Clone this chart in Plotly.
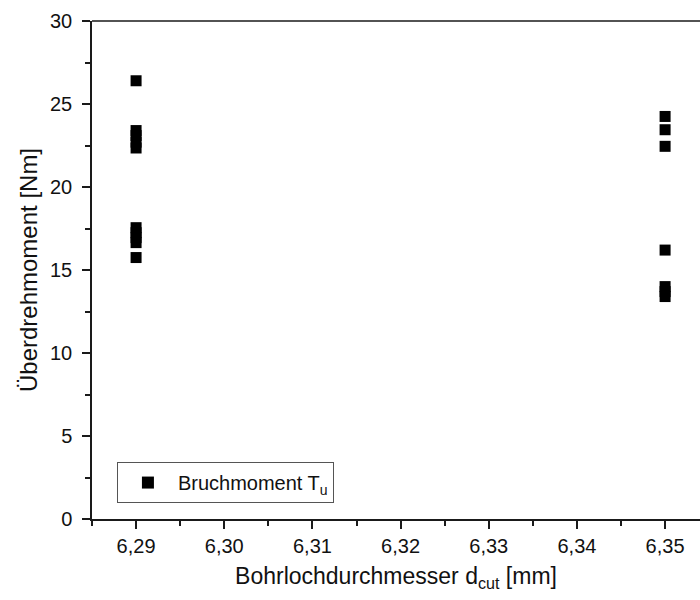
import plotly.graph_objects as go

# Bohrlochdurchmesser d_cut [mm] und gemessene Bruchmomente T_u [Nm]
d_cut_629 = [6.29] * 10
tu_629 = [26.4, 23.4, 23.1, 22.7, 22.35, 17.55, 17.25, 16.95, 16.65, 15.75]

d_cut_635 = [6.35] * 7
tu_635 = [24.25, 23.45, 22.45, 16.2, 14.0, 13.7, 13.4]

x_vals = d_cut_629 + d_cut_635
y_vals = tu_629 + tu_635

x_ticks = [6.29, 6.30, 6.31, 6.32, 6.33, 6.34, 6.35]
y_ticks = [0, 5, 10, 15, 20, 25, 30]

font_family = "Liberation Sans, Arial, sans-serif"
axis_color = "#1a1a1a"
text_color = "#111111"

fig = go.Figure()
fig.add_trace(go.Scatter(
    x=x_vals, y=y_vals,
    mode="markers",
    name="Bruchmoment T<sub>u</sub>",
    marker=dict(symbol="square", size=11, color="black", line=dict(width=0)),
))

fig.update_layout(
    width=700, height=600,
    margin=dict(l=92, r=0, t=21, b=81),
    paper_bgcolor="white", plot_bgcolor="white",
    separators=",.",
    font=dict(family=font_family, color=text_color, size=18),
    showlegend=True,
    legend=dict(
        x=0.041, y=0.032, xanchor="left", yanchor="bottom",
        bordercolor="#555555", borderwidth=1, bgcolor="white",
        font=dict(size=20, family=font_family, color=text_color),
        itemsizing="constant", itemwidth=50,
    ),
    xaxis=dict(
        range=[6.285, 6.35396],
        tickvals=x_ticks, tickformat=".2f",
        ticks="outside", ticklen=8, tickwidth=1.5, tickcolor=axis_color,
        minor=dict(dtick=0.005, ticks="outside", ticklen=5, tickwidth=1.5, tickcolor=axis_color),
        showline=True, linecolor=axis_color, linewidth=1.5,
        showgrid=False, zeroline=False,
        tickfont=dict(size=20, family=font_family, color=text_color),
        title=dict(text="Bohrlochdurchmesser d<sub>cut</sub> [mm]",
                   font=dict(size=23, family=font_family, color=text_color), standoff=12),
    ),
    yaxis=dict(
        range=[0, 30],
        tickvals=y_ticks,
        ticks="outside", ticklen=8, tickwidth=1.5, tickcolor=axis_color,
        minor=dict(dtick=2.5, ticks="outside", ticklen=5, tickwidth=1.5, tickcolor=axis_color),
        showline=True, linecolor=axis_color, linewidth=1.5,
        showgrid=False, zeroline=False,
        ticklabelstandoff=6,
        tickfont=dict(size=20, family=font_family, color=text_color),
        title=dict(text="Überdrehmoment [Nm]",
                   font=dict(size=24, family=font_family, color=text_color), standoff=6),
    ),
)

# obere Rahmenlinie
fig.add_shape(type="line", xref="paper", yref="paper",
              x0=0, x1=1, y0=1, y1=1,
              line=dict(color=axis_color, width=1.5))

fig.write_html("out.html")
